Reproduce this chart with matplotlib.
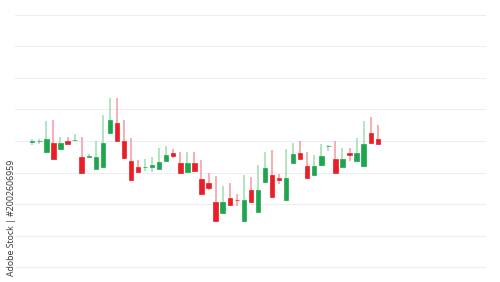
import matplotlib
matplotlib.use("Agg")
import matplotlib.pyplot as plt
import numpy as np

# OHLC values (arbitrary price units)
opens  = [39.7, 39.9, 36.4, 39.3, 37.5, 40.1, 40.2, 35.0, 35.0, 31.1,
          31.7, 42.4, 45.6, 40.0, 33.7, 31.8, 31.6, 31.7, 31.1, 33.7,
          36.3, 33.1, 30.3, 33.1, 27.9, 26.6, 20.5, 17.0, 21.8, 21.4,
          14.6, 24.4, 17.6, 26.9, 29.2, 28.3, 21.3, 33.1, 36.3, 32.2,
          29.2, 32.3, 38.3, 34.2, 31.7, 36.3, 33.7, 32.1, 42.6, 40.6]
closes = [39.9, 40.1, 40.5, 34.2, 39.3, 39.0, 40.4, 29.9, 35.2, 35.0,
          39.5, 46.7, 40.0, 34.5, 27.6, 30.1, 31.8, 32.4, 33.2, 35.6,
          35.2, 29.7, 32.9, 30.4, 23.1, 25.0, 14.6, 20.5, 19.7, 21.2,
          21.3, 20.5, 24.4, 31.3, 22.3, 27.6, 28.3, 35.8, 34.4, 28.2,
          32.2, 35.2, 38.5, 29.9, 34.2, 35.7, 36.3, 39.0, 39.5, 39.0]
highs  = [40.6, 40.6, 46.3, 46.7, 41.4, 41.4, 42.1, 41.4, 35.8, 40.0,
          48.3, 53.6, 53.6, 46.7, 40.9, 34.0, 34.3, 35.0, 37.9, 38.4,
          37.5, 36.6, 36.6, 36.6, 34.0, 29.7, 28.9, 25.7, 26.6, 23.2,
          29.2, 28.7, 32.4, 36.6, 37.1, 29.4, 37.4, 39.5, 40.0, 36.5,
          35.6, 39.0, 38.6, 40.0, 37.7, 37.7, 41.0, 46.3, 47.7, 45.1]
lows   = [38.7, 39.1, 36.3, 34.0, 37.3, 38.9, 40.1, 29.8, 34.9, 31.0,
          31.5, 42.3, 39.9, 34.3, 27.4, 29.9, 30.5, 30.3, 31.0, 33.5,
          34.5, 29.6, 30.2, 30.3, 23.0, 24.4, 14.4, 16.9, 19.5, 19.4,
          14.4, 20.4, 17.4, 26.8, 22.2, 26.3, 21.2, 33.0, 34.3, 28.0,
          29.1, 32.2, 36.9, 29.8, 31.6, 33.7, 33.6, 32.0, 39.4, 38.9]
grid_levels = [0, 10, 20, 30, 40, 50, 60, 70, 80]

UP, DOWN = "#1ea64f", "#e91e27"
UP_W, DOWN_W = "#9fdcb1", "#f29a9c"

fig = plt.figure(figsize=(5.0, 2.82), dpi=100)
ax = fig.add_axes([0, 0, 1, 1])
ax.set_axis_off()
ax.set_xlim(-4.58, 66.34)
ax.set_ylim(-4.76, 84.76)

for g in grid_levels:
    ax.axhline(g, xmin=0.03, xmax=0.97, color="#eeeeee", lw=0.8, zorder=0)

o = np.array(opens); c = np.array(closes)
h = np.array(highs); l = np.array(lows)
x = np.arange(len(o))
up = c >= o

ax.vlines(x[up], l[up], h[up], color=UP_W, lw=1.1, zorder=1)
ax.vlines(x[~up], l[~up], h[~up], color=DOWN_W, lw=1.1, zorder=1)

bottoms = np.minimum(o, c)
heights = np.abs(c - o)
ax.bar(x[up], heights[up], bottom=bottoms[up], width=0.62,
       color=UP, edgecolor=UP, linewidth=0.5, zorder=2)
ax.bar(x[~up], heights[~up], bottom=bottoms[~up], width=0.62,
       color=DOWN, edgecolor=DOWN, linewidth=0.5, zorder=2)

fig.text(0.024, 0.229, "Adobe Stock | #2002606959", rotation=90,
         ha="center", va="center", fontsize=6.3, color="#333333",
         family="Open Sans")

fig.savefig("out.png", dpi=100)
